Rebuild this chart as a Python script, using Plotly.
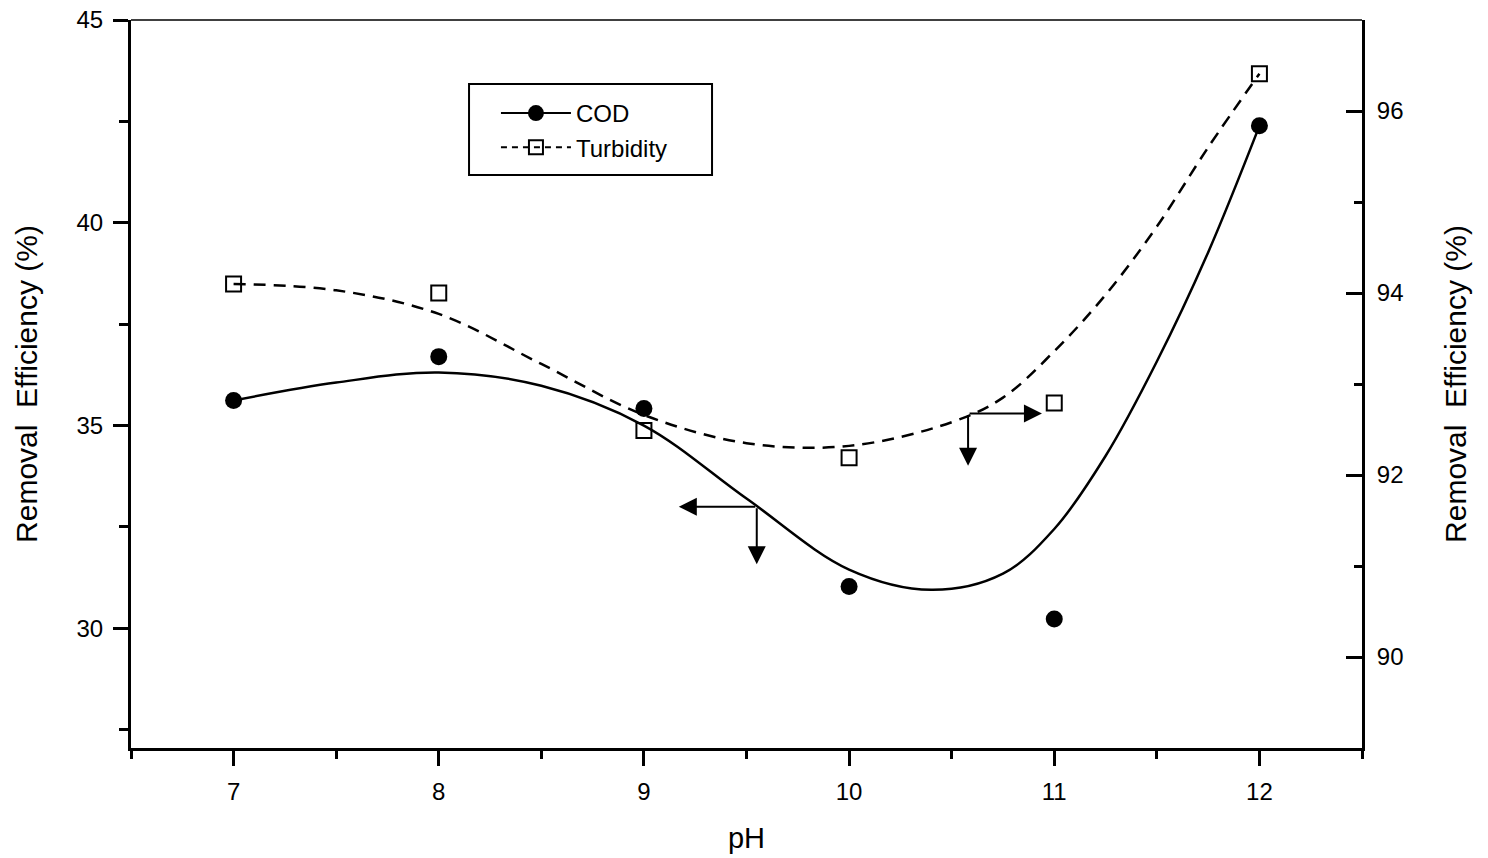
import plotly.graph_objects as go

# ---- data ----
ph = [7, 8, 9, 10, 11, 12]
cod = [35.62, 36.70, 35.42, 31.03, 30.23, 42.39]
turbidity = [94.10, 94.00, 92.49, 92.19, 92.79, 96.41]

# fitted curves as they appear in the picture
fit_x = [7, 7.5, 8, 8.5, 9, 9.5, 10, 10.4, 10.75, 11, 11.25, 11.5, 11.75, 12]
cod_fit = [35.62, 36.06, 36.31, 35.98, 35.00, 33.20, 31.45, 30.95, 31.35, 32.45, 34.25, 36.58, 39.27, 42.39]
turb_fit_x = [7, 7.5, 8, 8.5, 9, 9.5, 10, 10.5, 10.75, 11, 11.25, 11.5, 11.75, 12]
turb_fit = [94.10, 94.03, 93.77, 93.22, 92.66, 92.35, 92.32, 92.58, 92.85, 93.36, 93.98, 94.73, 95.60, 96.41]

FONT = "Liberation Sans, Arial, sans-serif"

fig = go.Figure()

# fitted curves
fig.add_trace(go.Scatter(x=fit_x, y=cod_fit, mode="lines",
                         line=dict(color="black", width=2.5, shape="spline", smoothing=1.0),
                         showlegend=False, hoverinfo="skip"))
fig.add_trace(go.Scatter(x=turb_fit_x, y=turb_fit, mode="lines", yaxis="y2",
                         line=dict(color="black", width=2.5, dash="12px,8px", shape="spline", smoothing=1.0),
                         showlegend=False, hoverinfo="skip"))

# data points
fig.add_trace(go.Scatter(x=ph, y=cod, mode="markers", marker=dict(symbol="circle", size=17, color="black"),
                         showlegend=False))
fig.add_trace(go.Scatter(x=ph, y=turbidity, mode="markers", yaxis="y2",
                         marker=dict(symbol="square-open", size=15, color="black", line=dict(width=2)),
                         showlegend=False))

# legend entries
fig.add_trace(go.Scatter(x=[None], y=[None], mode="lines+markers", name="COD",
                         line=dict(color="black", width=2),
                         marker=dict(symbol="circle", size=17, color="black")))
fig.add_trace(go.Scatter(x=[None], y=[None], mode="lines+markers", name="Turbidity",
                         line=dict(color="black", width=2, dash="6px,5px"),
                         marker=dict(symbol="square-open", size=14, color="black", line=dict(width=2))))

arrow = dict(showarrow=True, arrowhead=2, arrowsize=1.8, arrowwidth=2, arrowcolor="black",
             text="", xref="x", yref="y", axref="x", ayref="y", standoff=0, startstandoff=0)
annotations = [
    dict(x=9.17, y=33.0, ax=9.55, ay=33.0, **arrow),
    dict(x=9.55, y=31.58, ax=9.55, ay=33.0, **arrow),
    dict(x=10.94, y=35.30, ax=10.58, ay=35.30, **arrow),
    dict(x=10.58, y=34.01, ax=10.58, ay=35.30, **arrow),
]

fig.update_layout(
    width=1488, height=858,
    margin=dict(l=131, r=126, t=20, b=110, autoexpand=False),
    paper_bgcolor="white", plot_bgcolor="white",
    font=dict(family=FONT, color="black", size=24),
    xaxis=dict(range=[6.5, 12.5], tickmode="linear", tick0=7, dtick=1, automargin=False,
               showline=True, linewidth=3, linecolor="black", showgrid=False, zeroline=False,
               ticks="outside", ticklen=15, tickwidth=3, tickcolor="black",
               minor=dict(dtick=0.5, tick0=6.5, ticks="outside", ticklen=8, tickwidth=3, tickcolor="black"),
               tickfont=dict(size=24), ticklabelstandoff=5, ticklabeloverflow="allow",
               title=dict(text="pH", font=dict(size=29), standoff=24)),
    yaxis=dict(range=[27.05, 45.0001], tickmode="linear", tick0=30, dtick=5, automargin=False,
               showline=True, linewidth=3, linecolor="black", showgrid=False, zeroline=False,
               ticks="outside", ticklen=15, tickwidth=3, tickcolor="black",
               minor=dict(dtick=2.5, tick0=27.5, ticks="outside", ticklen=9, tickwidth=3, tickcolor="black"),
               tickfont=dict(size=24), ticklabelstandoff=5, ticklabeloverflow="allow",
               title=dict(text="Removal  Efficiency (%)", font=dict(size=30), standoff=30)),
    yaxis2=dict(range=[89, 97], overlaying="y", side="right", tickmode="linear", tick0=90, dtick=2,
                automargin=False,
                showline=True, linewidth=3, linecolor="black", showgrid=False, zeroline=False,
                ticks="inside", ticklen=16, tickwidth=3, tickcolor="black",
                minor=dict(dtick=1, tick0=89, ticks="inside", ticklen=8, tickwidth=3, tickcolor="black"),
                tickfont=dict(size=24), ticklabelstandoff=7, ticklabeloverflow="allow",
                title=dict(text="Removal  Efficiency (%)", font=dict(size=30), standoff=43)),
    legend=dict(x=0.2786, y=0.9025, xanchor="left", yanchor="top", bgcolor="rgba(0,0,0,0)",
                borderwidth=0, font=dict(size=24), itemwidth=70,
                indentation=22, tracegroupgap=0),
    shapes=[
        dict(type="line", xref="paper", yref="paper", x0=0, x1=1, y0=1, y1=1,
             line=dict(color="black", width=1.5)),
        # legend frame
        dict(type="rect", xref="paper", yref="paper", x0=0.2746, x1=0.4720, y0=0.7871, y1=0.9121,
             line=dict(color="black", width=2), fillcolor="white", layer="below"),
    ],
    annotations=annotations,
)

fig.write_html(
    "out.html",
    config={"displayModeBar": False},
    post_script="document.body.style.margin='0';document.body.style.padding='0';"
                "document.body.style.overflow='hidden';",
)
